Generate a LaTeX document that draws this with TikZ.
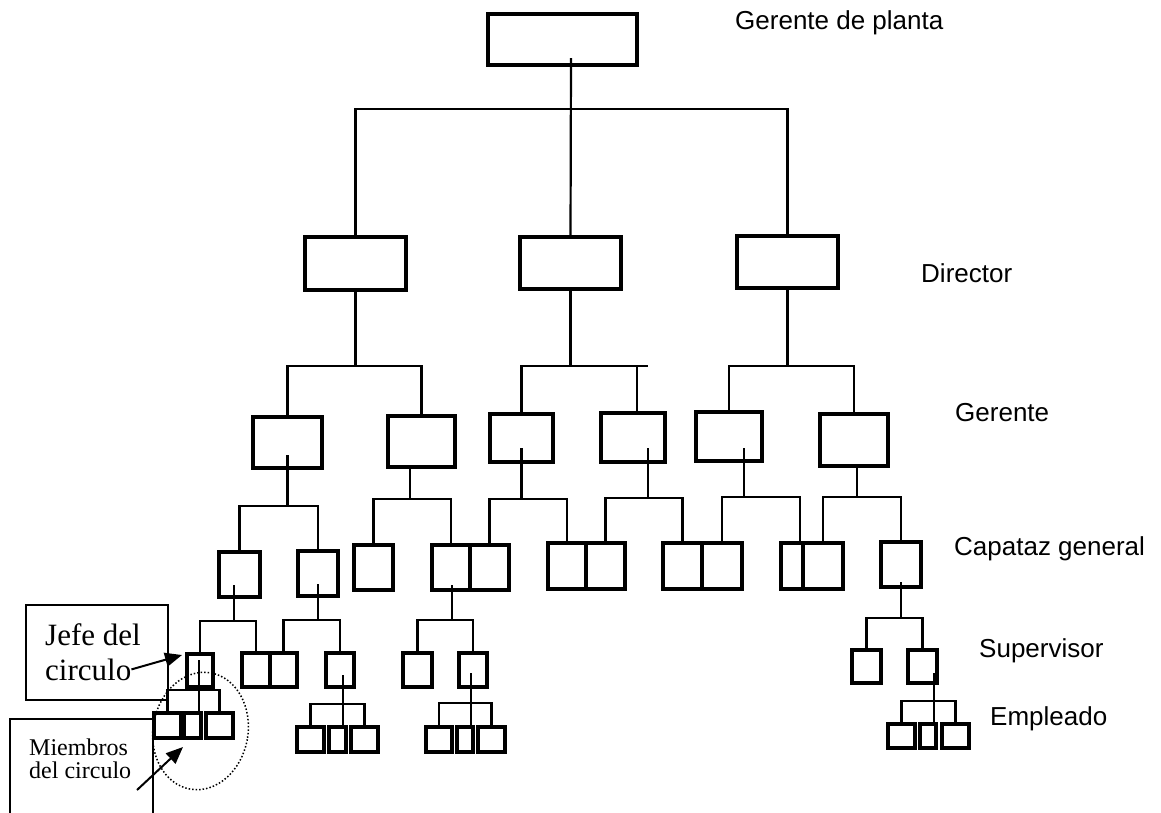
\documentclass[tikz,border=0pt]{standalone}
\usepackage{fontspec}
\setmainfont{Liberation Serif}
\newfontfamily\arialf{Liberation Sans}
\usetikzlibrary{arrows.meta,calc}
\tikzset{
  bx/.style={draw,rectangle,line width=3.2pt,inner sep=0pt,outer sep=0pt},
  ln/.style={line width=2.6pt},
  lnt/.style={line width=2.2pt},
  abox/.style={draw,rectangle,line width=2.6pt,inner sep=0pt,outer sep=0pt},
  aline/.style={line width=2.6pt},
  arr/.style={line width=2pt,-{Triangle[length=17pt,width=14pt]}},
  lab/.style={font=\arialf\fontsize{26}{30}\selectfont,anchor=base west,inner sep=0pt},
  serifa/.style={font=\fontsize{31}{35}\selectfont,anchor=base west,inner sep=0pt},
  serifb/.style={font=\fontsize{24}{27}\selectfont,anchor=base west,inner sep=0pt}
}
\newcommand\orgbox[5]{\node[bx,minimum width={#4pt-#2pt},minimum height={#5pt-#3pt}] (#1) at ({(#2+#4)/2},{(#3+#5)/2}) {};}
\begin{document}
\begin{tikzpicture}[x=1pt,y=-1pt]
\useasboundingbox (0,0) rectangle (1161,812);
% boxes
\orgbox{T}{488}{14}{637}{65}
\orgbox{D1}{305}{237}{406}{290}
\orgbox{D2}{520}{237}{621}{289}
\orgbox{D3}{737}{236}{838}{288}
\orgbox{G1}{253}{417}{322}{468}
\orgbox{G2}{388}{416}{455}{467}
\orgbox{G3}{490}{414}{553}{462}
\orgbox{G4}{601}{413}{665}{462}
\orgbox{G5}{696}{412}{762}{461}
\orgbox{G6}{820}{414}{888}{466}
\orgbox{C1}{219}{552}{260}{597}
\orgbox{C2}{298}{551}{338}{596}
\orgbox{C3}{354}{545}{393}{590}
\orgbox{C4}{432}{545}{470}{590}
\orgbox{C5}{470}{545}{509}{590}
\orgbox{C6}{548}{543}{586}{589}
\orgbox{C7}{586}{543}{625}{589}
\orgbox{C8}{663}{543}{702}{589}
\orgbox{C9}{702}{543}{742}{589}
\orgbox{C10}{781}{543}{803}{589}
\orgbox{C11}{803}{543}{843}{589}
\orgbox{C12}{881}{542}{921}{587}
\orgbox{S1}{187}{654}{213}{687}
\orgbox{S2}{242}{653}{270}{687}
\orgbox{S3}{270}{653}{297}{687}
\orgbox{S4}{326}{653}{354}{687}
\orgbox{S5}{403}{653}{432}{687}
\orgbox{S6}{459}{653}{487}{687}
\orgbox{S7}{852}{650}{881}{683}
\orgbox{S8}{908}{650}{937}{683}
\orgbox{E1}{154}{713}{181}{738}
\orgbox{E2}{184}{713}{201}{738}
\orgbox{E3}{206}{713}{233}{738}
\orgbox{E4}{297}{727}{324}{752}
\orgbox{E5}{329}{727}{346}{752}
\orgbox{E6}{351}{727}{378}{752}
\orgbox{E7}{426}{727}{452}{752}
\orgbox{E8}{457}{727}{473}{752}
\orgbox{E9}{478}{727}{505}{752}
\orgbox{E10}{888}{724}{915}{748}
\orgbox{E11}{920}{724}{936}{748}
\orgbox{E12}{942}{724}{969}{748}
% top level
\draw[lnt] ($(T.south)+(8.5,-7)$) -- (D2.north);
\coordinate (topbar) at (0,109);
\draw[lnt] (D1.north) |- (D3.north |- topbar) -- (D3.north);
% level 3
\coordinate (lbar) at (0,366);
\draw[lnt] (D1.south) -- (D1.south |- lbar);
\draw[ln] (G1.north) |- (G2.north |- lbar) -- (G2.north);
\draw[lnt] (D2.south) -- (D2.south |- lbar);
\coordinate (g4t) at ($(G4.north)+(4,0)$);
\draw[ln] (G3.north) |- ($(g4t |- lbar)+(11,0)$);
\draw[ln] (g4t) -- (g4t |- lbar);
\draw[lnt] (D3.south) -- (D3.south |- lbar);
\draw[ln] (G5.north) |- (G6.north |- lbar) -- (G6.north);
% level 4
\coordinate (g1s) at ($(G1.south)+(0,-13)$);
\coordinate (g1b) at (0,506);
\draw[ln] (g1s) -- (g1s |- g1b);
\draw[ln] (C1.north) |- (C2.north |- g1b) -- (C2.north);
\coordinate (g2s) at ($(G2.south)+(-11.5,0)$);
\coordinate (g2b) at (0,499);
\draw[ln] (g2s) -- (g2s |- g2b);
\draw[ln] (C3.north) |- (C4.north |- g2b) -- (C4.north);
\coordinate (g3s) at ($(G3.south)+(0,-14)$);
\coordinate (g3b) at (0,499);
\draw[ln] (g3s) -- (g3s |- g3b);
\draw[ln] (C5.north) |- (C6.north |- g3b) -- (C6.north);
\coordinate (g4s) at ($(G4.south)+(15,-14)$);
\coordinate (g4b) at (0,498);
\draw[ln] (g4s) -- (g4s |- g4b);
\draw[ln] (C7.north) |- (C8.north |- g4b) -- (C8.north);
\coordinate (g5s) at ($(G5.south)+(15,-13)$);
\coordinate (g5b) at (0,497);
\draw[ln] (g5s) -- (g5s |- g5b);
\coordinate (c10t) at ($(C10.north)+(8,0)$);
\draw[ln] (C9.north) |- (c10t |- g5b) -- (c10t);
\coordinate (g6s) at ($(G6.south)+(3,0)$);
\coordinate (g6b) at (0,497);
\draw[ln] (g6s) -- (g6s |- g6b);
\draw[ln] (C11.north) |- (C12.north |- g6b) -- (C12.north);
% level 5
\coordinate (c1s) at ($(C1.south)+(-5.5,-12)$);
\coordinate (c1b) at (0,621);
\draw[ln] (c1s) -- (c1s |- c1b);
\draw[ln] (S1.north) |- (S2.north |- c1b) -- (S2.north);
\coordinate (c2s) at ($(C2.south)+(0,-12)$);
\coordinate (c2b) at (0,620);
\draw[ln] (c2s) -- (c2s |- c2b);
\draw[ln] (S3.north) |- (S4.north |- c2b) -- (S4.north);
\coordinate (c4s) at ($(C4.south)+(1,-5)$);
\coordinate (c4b) at (0,620);
\draw[ln] (c4s) -- (c4s |- c4b);
\draw[ln] (S5.north) |- (S6.north |- c4b) -- (S6.north);
\coordinate (c12s) at ($(C12.south)+(0,-5)$);
\coordinate (c12b) at (0,618);
\draw[ln] (c12s) -- (c12s |- c12b);
\draw[ln] (S7.north) |- (S8.north |- c12b) -- (S8.north);
% level 6
\coordinate (s1s) at ($(S1.south)+(-1,-27)$);
\coordinate (s1b) at (0,690);
\draw[ln] (s1s) -- (s1s |- E2.north);
\draw[ln] (E1.north) |- (E3.north |- s1b) -- (E3.north);
\coordinate (s4s) at ($(S4.south)+(3,-12)$);
\coordinate (s4b) at (0,704);
\draw[ln] (s4s) -- (s4s |- E5.north);
\draw[ln] (E4.north) |- (E6.north |- s4b) -- (E6.north);
\coordinate (s6s) at ($(S6.south)+(-2,-14)$);
\coordinate (s6b) at (0,703);
\draw[ln] (s6s) -- (s6s |- E8.north);
\draw[ln] (E7.north) |- (E9.north |- s6b) -- (E9.north);
\coordinate (s8s) at ($(S8.south)+(11.5,-10)$);
\coordinate (s8b) at (0,701);
\draw[ln] (s8s) -- (s8s |- E11.north);
\draw[ln] (E10.north) |- (E12.north |- s8b) -- (E12.north);
% level labels
\node[lab] (lgp) at (735,29) {Gerente de planta};
\node[lab] (ldir) at (921,282) {Director};
\node[lab] (lger) at (955,421) {Gerente};
\node[lab] (lcap) at (954,555) {Capataz general};
\node[lab] (lsup) at (979,657) {Supervisor};
\node[lab] (lemp) at (990,725) {Empleado};
% circle
\draw[dotted,line width=1.5pt,rotate around={-10:(200.5,731)}] (200.5,731) ellipse [x radius=47.5,y radius=59];
% annotations
\node[abox,minimum width=142pt,minimum height=95pt] (J) at (97,652.5) {};
\node[serifa] (jt1) at (45,645) {Jefe del};
\node[serifa] (jt2) at (45,680) {circulo};
\draw[arr] (jt2.east) -- ($(S1.west)+(-5,-15.5)$);
\draw[aline] (10,818) -- (10,719) -- (153,719) -- (153,818);
\node[serifb] (mt1) at (29,755) {Miembros};
\node[serifb] (mt2) at (29,778) {del circulo};
\coordinate (mstart) at (137,790);
\draw[arr] (mstart) -- ($(E2.south west)+(-1,9)$);
\end{tikzpicture}
\end{document}
